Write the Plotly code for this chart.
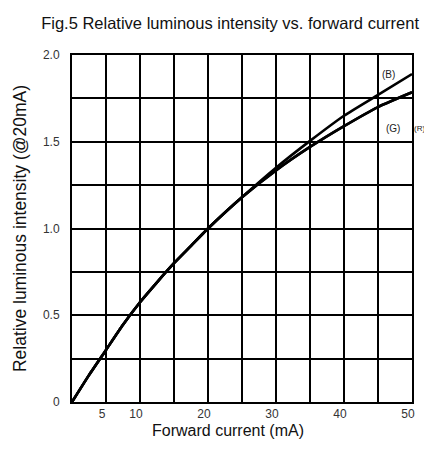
import plotly.graph_objects as go

current_ma = [0, 2.5, 5, 7.5, 10, 12.5, 15, 17.5, 20, 25, 30, 35, 40, 45, 50]
intensity_b = [0, 0.155, 0.30, 0.445, 0.575, 0.69, 0.80, 0.90, 1.00, 1.18, 1.35, 1.505, 1.65, 1.77, 1.89]
intensity_g = [0, 0.155, 0.30, 0.445, 0.575, 0.69, 0.80, 0.90, 1.00, 1.18, 1.335, 1.47, 1.59, 1.70, 1.785]
intensity_r = intensity_g

x_tickvals = [0, 5, 10, 15, 20, 25, 30, 35, 40, 45, 50]
x_ticktext = ["", "5", "10", "", "20", "", "30", "", "40", "", "50"]
y_tickvals = [0, 0.25, 0.5, 0.75, 1.0, 1.25, 1.5, 1.75, 2.0]
y_ticktext = ["0", "", "0.5", "", "1.0", "", "1.5", "", "2.0"]

FONT = "Liberation Sans, Arial, sans-serif"
PLOT_H = 347.0

fig = go.Figure()
for name, ys in [("B", intensity_b), ("G", intensity_g), ("R", intensity_r)]:
    fig.add_trace(go.Scatter(x=current_ma, y=ys, mode="lines", name=name,
                             line=dict(color="black", width=2.6, shape="spline", smoothing=0.6),
                             showlegend=False))

labels = [("(B)", 46.6, 1.885, 10), ("(G)", 47.2, 1.575, 10), ("(R)", 51.05, 1.575, 8)]
for txt, lx, ly, fs in labels:
    fig.add_annotation(x=(lx / 50.0), y=ly / 2.0, text=txt, showarrow=False,
                       xref="paper", yref="paper", xanchor="center", yanchor="middle",
                       font=dict(size=fs, color="#222", family=FONT))

fig.add_annotation(x=0.459, y=-29.0 / PLOT_H, xref="paper", yref="paper",
                   text="Forward current (mA)", showarrow=False,
                   xanchor="center", yanchor="middle",
                   font=dict(size=16, color="#111", family=FONT))

fig.update_layout(
    width=416, height=433,
    margin=dict(l=64, r=12, t=47, b=39),
    paper_bgcolor="white", plot_bgcolor="white",
    title=dict(text="Fig.5 Relative luminous intensity vs. forward current",
               x=0.465, xanchor="center", y=0.965, yanchor="middle", xref="paper",
               font=dict(size=16.5, color="#111", family=FONT)),
    font=dict(family=FONT, color="#111"),
)

fig.update_xaxes(range=[0, 50], tickmode="array", tickvals=x_tickvals, ticktext=x_ticktext,
                 showgrid=True, gridcolor="black", gridwidth=1.5,
                 showline=True, linecolor="black", linewidth=2, mirror=True,
                 ticks="", zeroline=False, ticklabelshift=-4, automargin=False,
                 tickfont=dict(size=12, color="#333"))
fig.update_yaxes(range=[0, 2.0], tickmode="array", tickvals=y_tickvals, ticktext=y_ticktext,
                 showgrid=True, gridcolor="black", gridwidth=1.5,
                 showline=True, linecolor="black", linewidth=2, mirror=True,
                 ticks="", zeroline=False, automargin=False, ticklabelstandoff=8,
                 tickfont=dict(size=12, color="#333"),
                 title=dict(text="Relative luminous intensity (@20mA)", font=dict(size=17.5, color="#111"), standoff=12))

fig.write_html("out.html")
